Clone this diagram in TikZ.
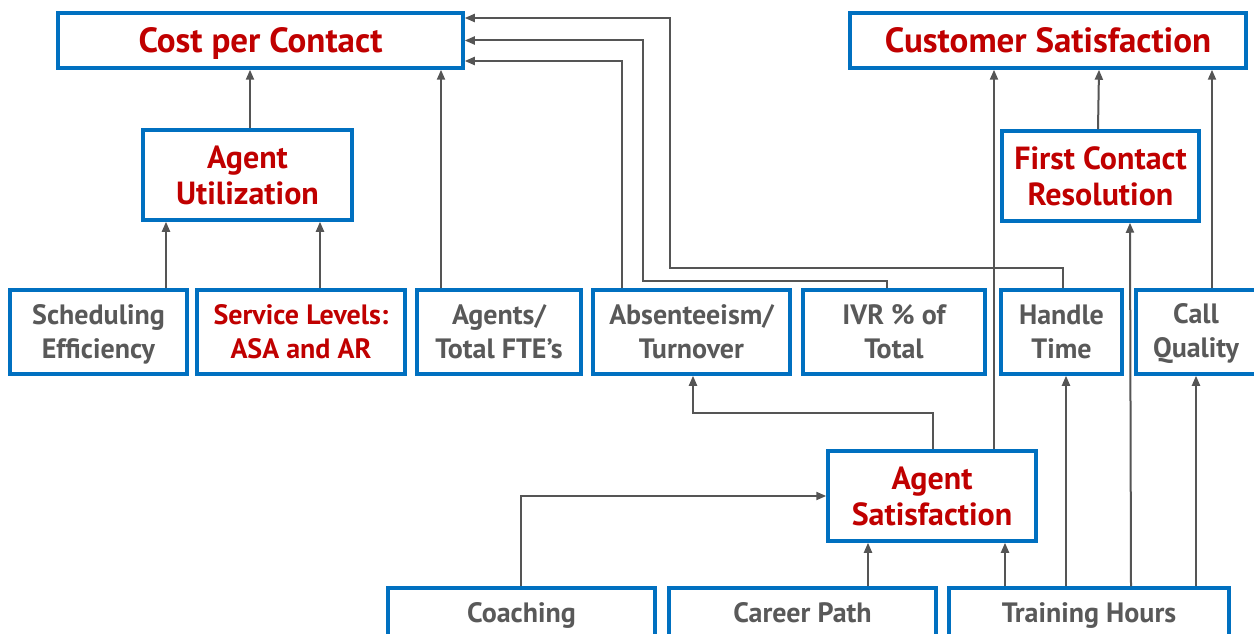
\documentclass[tikz,border=0pt]{standalone}
\usepackage{fontspec}
\setmainfont{PT Sans}
\usetikzlibrary{arrows.meta}
\definecolor{boxblue}{HTML}{0070C0}
\definecolor{kred}{HTML}{C00000}
\definecolor{kgray}{HTML}{595959}
\definecolor{lgray}{HTML}{555555}
\tikzset{
  box/.style={draw=boxblue, line width=3.5pt, fill=white, align=center, inner sep=0pt, font=\bfseries},
  big/.style={box, text=kred, font=\fontsize{35}{40}\selectfont\bfseries},
  mid/.style={box, text=kred, font=\fontsize{32}{36}\selectfont\bfseries},
  low/.style={box, text=kgray, font=\fontsize{28}{34}\selectfont\bfseries},
  lowred/.style={box, text=kred, font=\fontsize{28}{34}\selectfont\bfseries},
  bot/.style={text=kgray, font=\fontsize{28}{34}\selectfont\bfseries, anchor=base},
  arr/.style={draw=lgray, line width=2pt, -{Triangle[length=10pt,width=8pt]}},
}
\begin{document}
\begin{tikzpicture}[x=1pt,y=-1pt]
\useasboundingbox (0,0) rectangle (1254,634);
\clip (0,0) rectangle (1254,634);
\fill[white] (0,0) rectangle (1254,634);
% top
\node[big, minimum width=405pt, minimum height=55pt, text depth=1pt] (cpc) at (260.5,40.5) {Cost per Contact};
\node[big, minimum width=396pt, minimum height=55pt] (cs) at (1048,40.5) {Customer Satisfaction};
% second level
\node[mid, minimum width=209pt, minimum height=90pt] (au) at (247.5,175) {Agent\\Utilization};
\node[mid, minimum width=197pt, minimum height=90pt] (fcr) at (1100.5,176) {First Contact\\Resolution};
% row
\node[low, minimum width=177pt, minimum height=84pt] (se) at (98.5,332) {\strut Scheduling\\Efficiency};
\node[lowred, minimum width=208pt, minimum height=84pt] (sl) at (301,332) {Service Levels:\\ASA and AR};
\node[low, minimum width=164pt, minimum height=84pt] (ag) at (499,332) {Agents/\\Total FTE’s};
\node[low, minimum width=197pt, minimum height=84pt] (ab) at (691.5,332) {Absenteeism/\\Turnover};
\node[low, minimum width=182pt, minimum height=84pt] (ivr) at (894,332) {IVR \% of\\Total};
\node[low, minimum width=121pt, minimum height=84pt] (ht) at (1061.5,332) {Handle\\Time};
\node[low, minimum width=120pt, minimum height=84pt] (cq) at (1196,332) {\strut Call\\Quality};
% agent satisfaction
\node[mid, minimum width=208pt, minimum height=90pt] (as) at (932,496) {Agent\\Satisfaction};
% bottom
\node[low, minimum width=267pt, minimum height=60pt] (co) at (521.5,618) {};
\node[low, minimum width=267pt, minimum height=60pt] (cp) at (802.5,618) {};
\node[low, minimum width=280pt, minimum height=60pt] (th) at (1089,618) {};
\node[bot] (cot) at (521.5,622) {Coaching};
\node[bot] (cpt) at (802.5,622) {Career Path};
\node[bot] (tht) at (1089,622) {Training Hours};
% connectors
\draw[arr] (250,0 |- au.north) -- (250,0 |- cpc.south);
\draw[arr] (441,0 |- ag.north) -- (441,0 |- cpc.south);
\draw[arr] (166,0 |- se.north) -- (166,0 |- au.south);
\draw[arr] (320,0 |- sl.north) -- (320,0 |- au.south);
\draw[arr] (622,0 |- ab.north) |- (cpc.east |- 0,61);
\draw[arr] (887,0 |- ivr.north) -- (887,281) -- (643,281) -- (643,40.5) -- (cpc.east);
\draw[arr] (1063,0 |- ht.north) -- (1063,268) -- (670,268) -- (670,18) -- (cpc.east |- 0,18);
\draw[arr] (933,0 |- as.north) -- (933,413) -- (693,413) -- (693,0 |- ab.south);
\draw[arr] (994,0 |- as.north) -- (994,0 |- cs.south);
\draw[arr] (1098,0 |- fcr.north) -- (1099,0 |- cs.south);
\draw[arr] (1212,0 |- cq.north) -- (1212,0 |- cs.south);
\draw[arr] (1131,0 |- th.north) -- (1130,0 |- fcr.south);
\draw[arr] (1066,0 |- th.north) -- (1066,0 |- ht.south);
\draw[arr] (1196,0 |- th.north) -- (1196,0 |- cq.south);
\draw[arr] (1005,0 |- th.north) -- (1005,0 |- as.south);
\draw[arr] (868,0 |- cp.north) -- (868,0 |- as.south);
\draw[arr] (521,0 |- co.north) |- (as.west);
\end{tikzpicture}
\end{document}
